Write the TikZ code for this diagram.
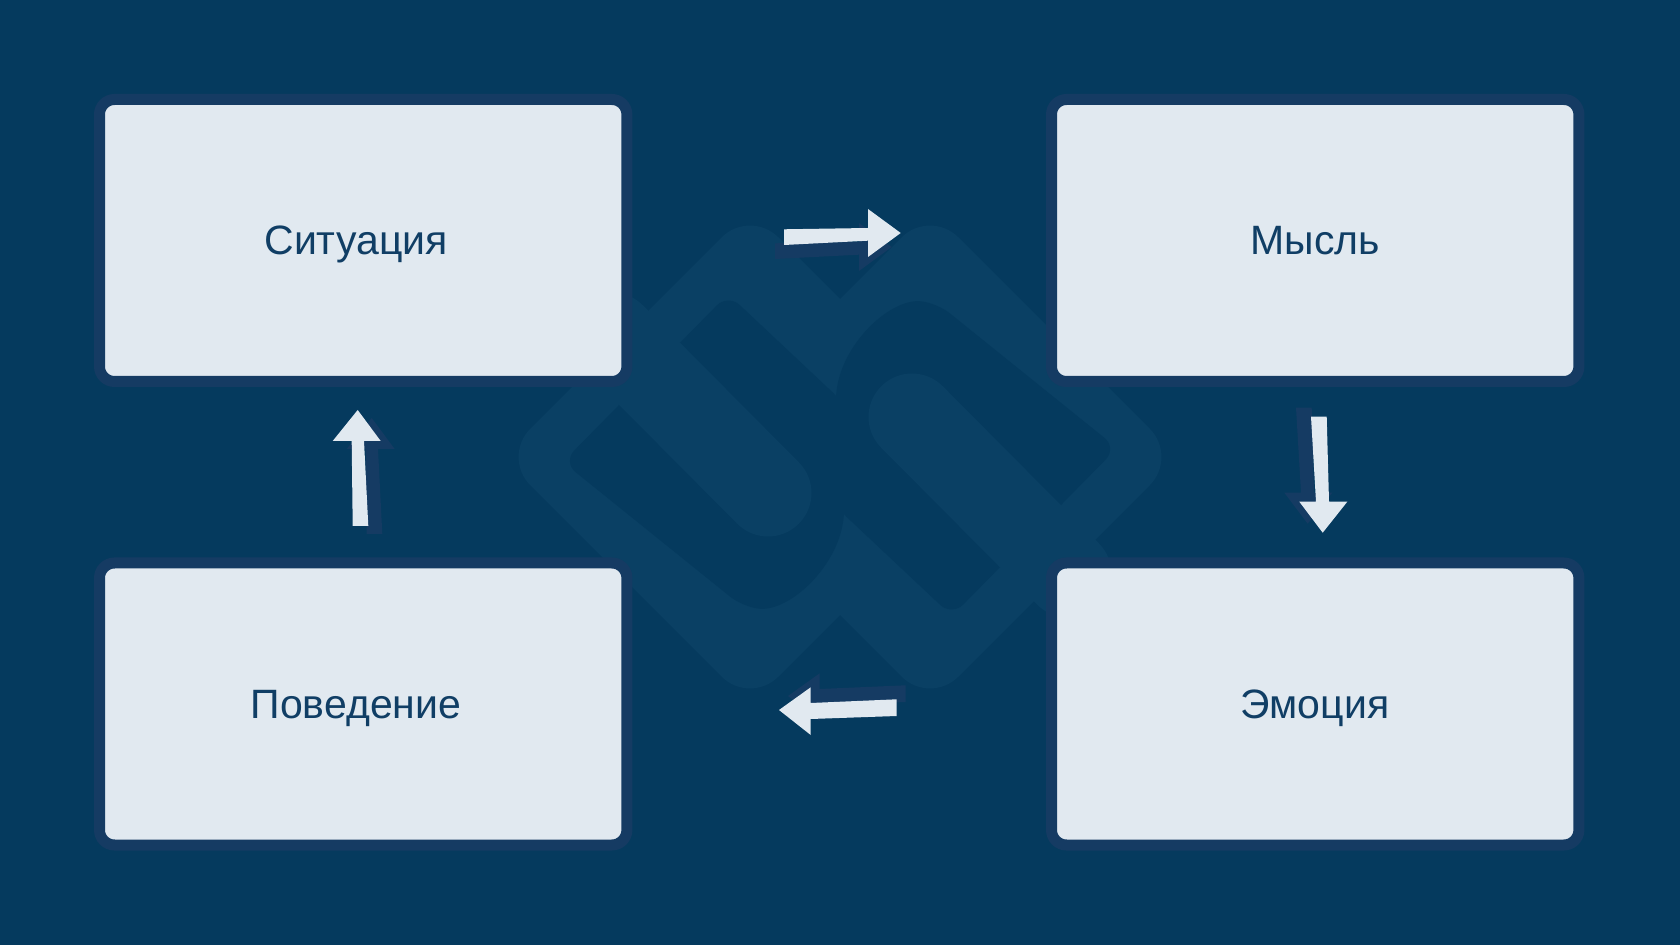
\documentclass[tikz,border=0pt]{standalone}
\usepackage{fontspec}
\setmainfont{Liberation Sans}
\definecolor{bg}{HTML}{053A5E}
\definecolor{band}{HTML}{0A4064}
\definecolor{edge}{HTML}{153B63}
\definecolor{card}{HTML}{E1E9F0}
\definecolor{ink}{HTML}{103E65}
\begin{document}
\begin{tikzpicture}[x=0.5pt,y=-0.5pt,
  box/.style={draw=edge, fill=card, line width=5.5pt, rounded corners=7.5pt,
    minimum width=263.7pt, minimum height=141pt, inner sep=0pt},
  lbl/.style={text=ink, font=\fontsize{20.5pt}{24pt}\selectfont, anchor=base, inner sep=0pt},
  arrowfill/.style={fill=card},
  shadowfill/.style={fill=edge},
  bandfill/.style={fill=band},
  holefill/.style={fill=bg, rounded corners=8pt},
  tongue/.style={draw=band, line width=43.5pt, line cap=round}]
\fill[bg] (0,0) rectangle (1680,945);
\useasboundingbox (0,0) rectangle (1680,945);
% background chain-link logo
\fill[bandfill, rounded corners=20pt] (750,209) -- (998,457) -- (750,705) -- (502,457) -- cycle;
\fill[bandfill, rounded corners=20pt] (930,209) -- (1178,457) -- (930,705) -- (682,457) -- cycle;
\foreach \r in {0,180}{
  \begin{scope}[rotate around={\r:(840,455)}]
    \fill[holefill] (563,462) -- (728,294) -- (845,404) -- (845,500)
      .. controls (840,565) and (790,612) .. (743,607) -- cycle;
  \end{scope}
}
\foreach \r in {0,180}{
  \begin{scope}[rotate around={\r:(840,455)}]
    \draw[tongue] (612,336) -- (768,493);
  \end{scope}
}
% boxes
\node[box] (sit) at (363.2,240.5) {};
\node[box] (mys) at (1315.2,240.5) {};
\node[box] (pov) at (363.2,704) {};
\node[box] (emo) at (1315.2,704) {};
\node[lbl] (tsit) at (356,255) {Ситуация};
\node[lbl] (tmys) at (1315.5,255) {Мысль};
\node[lbl] (tpov) at (356,718.5) {Поведение};
\node[lbl] (temo) at (1315,718.5) {Эмоция};
% arrows: right (top)
\fill[shadowfill, shift={(-9,14)}] (784,229.3) -- (868,228) -- (868,209) -- (900.7,233) -- (868,257) -- (868,240.7) -- (784,245) -- cycle;
\fill[arrowfill] (784,229.3) -- (868,228) -- (868,209) -- (900.7,233) -- (868,257) -- (868,240.7) -- (784,245) -- cycle;
% down (right)
\fill[shadowfill, shift={(-15,-9)}] (1311,416.7) -- (1326.7,416.7) -- (1329,501.7) -- (1347.3,501.7) -- (1322.7,532.7) -- (1299.3,501.7) -- (1316,501.7) -- cycle;
\fill[arrowfill] (1311,416.7) -- (1326.7,416.7) -- (1329,501.7) -- (1347.3,501.7) -- (1322.7,532.7) -- (1299.3,501.7) -- (1316,501.7) -- cycle;
% left (bottom)
\fill[shadowfill, shift={(9,-14)}] (896.7,699.3) -- (896.7,716) -- (810.7,719) -- (810.7,735) -- (779,710) -- (810.7,687.3) -- (810.7,703) -- cycle;
\fill[arrowfill] (896.7,699.3) -- (896.7,716) -- (810.7,719) -- (810.7,735) -- (779,710) -- (810.7,687.3) -- (810.7,703) -- cycle;
% up (left)
\fill[shadowfill, shift={(14,8)}] (352.7,526) -- (368.3,526) -- (364,441) -- (380.7,441) -- (357.7,410) -- (332.7,441) -- (351.7,441) -- cycle;
\fill[arrowfill] (352.7,526) -- (368.3,526) -- (364,441) -- (380.7,441) -- (357.7,410) -- (332.7,441) -- (351.7,441) -- cycle;
\end{tikzpicture}
\end{document}
